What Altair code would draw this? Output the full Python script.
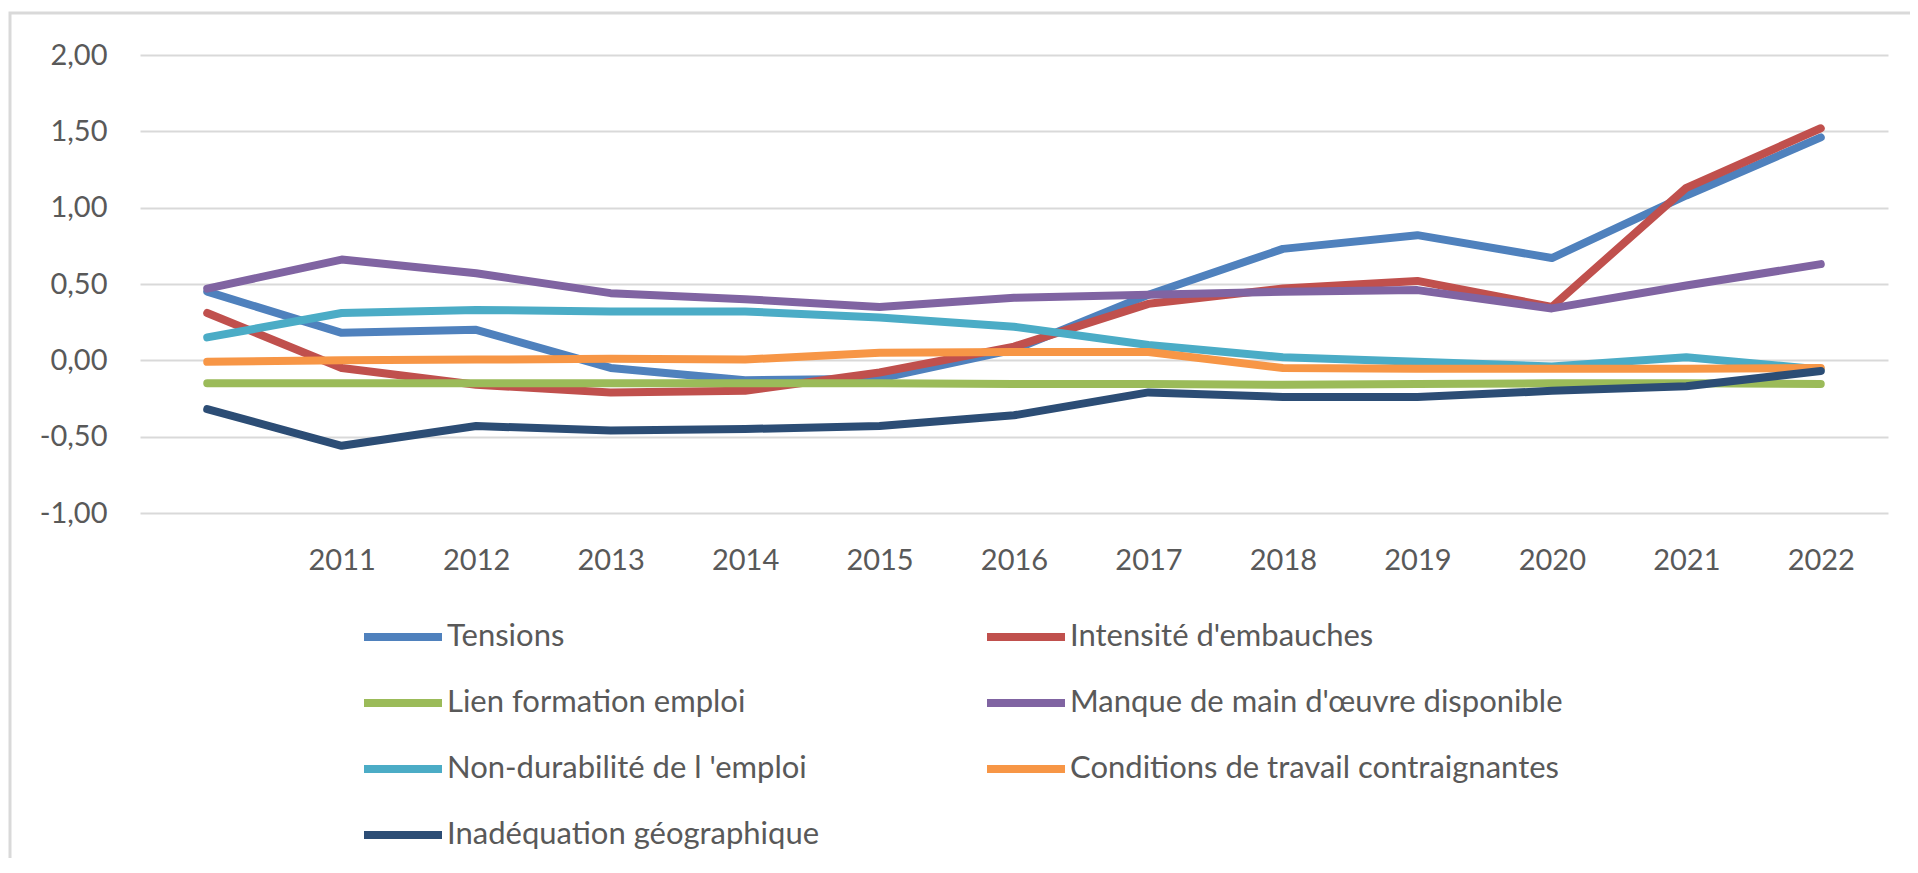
import altair as alt
import pandas as pd

# ---- data ----
years = ["2010", "2011", "2012", "2013", "2014", "2015", "2016",
         "2017", "2018", "2019", "2020", "2021", "2022"]

series_names = [
    "Tensions",
    "Intensité d'embauches",
    "Lien formation emploi",
    "Manque de main d'œuvre disponible",
    "Non-durabilité de l 'emploi",
    "Conditions de travail contraignantes",
    "Inadéquation géographique",
]

tensions = [0.45, 0.18, 0.20, -0.05, -0.13, -0.12, 0.07, 0.43, 0.73, 0.82, 0.67, 1.08, 1.46]
intensite = [0.31, -0.05, -0.16, -0.21, -0.20, -0.08, 0.09, 0.37, 0.47, 0.52, 0.35, 1.13, 1.52]
lien = [-0.15, -0.15, -0.15, -0.15, -0.15, -0.15, -0.155, -0.155, -0.16, -0.155, -0.15, -0.15, -0.155]
manque = [0.47, 0.66, 0.57, 0.44, 0.40, 0.35, 0.41, 0.43, 0.45, 0.46, 0.34, 0.49, 0.63]
non_durabilite = [0.15, 0.31, 0.33, 0.32, 0.32, 0.28, 0.22, 0.10, 0.02, -0.01, -0.04, 0.02, -0.06]
conditions = [-0.01, 0.00, 0.005, 0.01, 0.005, 0.05, 0.055, 0.055, -0.05, -0.055, -0.055, -0.055, -0.05]
inadequation = [-0.32, -0.56, -0.43, -0.46, -0.45, -0.43, -0.36, -0.21, -0.24, -0.24, -0.20, -0.17, -0.07]

colors = ["#4F81BD", "#C0504D", "#9BBB59", "#8064A2", "#4BACC6", "#F79646", "#2C4D75"]

y_ticks = [-1.0, -0.5, 0.0, 0.5, 1.0, 1.5, 2.0]

all_series = [tensions, intensite, lien, manque, non_durabilite, conditions, inadequation]
rows = []
for name, vals in zip(series_names, all_series):
    for yr, v in zip(years, vals):
        rows.append({"Année": yr, "Série": name, "Valeur": v})
df = pd.DataFrame(rows)

FONT = "Lato"
TXT = "#595959"
GRID = "#d9d9d9"

lines = alt.Chart(df).mark_line(
    strokeWidth=8, strokeCap="round", strokeJoin="round"
).encode(
    x=alt.X(
        "Année:N",
        sort=years,
        axis=alt.Axis(
            title=None, labelAngle=0, domain=False, ticks=False,
            labelFont=FONT, labelFontSize=29, labelColor=TXT, labelPadding=33,
            labelExpr="datum.value == '2010' ? '' : datum.value",
        ),
    ),
    y=alt.Y(
        "Valeur:Q",
        scale=alt.Scale(domain=[-1, 2], nice=False, zero=False),
        axis=alt.Axis(
            title=None, values=y_ticks, domain=False, ticks=False,
            grid=True, gridColor=GRID, gridWidth=2,
            labelFont=FONT, labelFontSize=29, labelColor=TXT, labelPadding=33,
            labelExpr="(datum.value < 0 ? '-' : '') + replace(format(abs(datum.value), '.2f'), '.', ',')",
        ),
    ),
    color=alt.Color(
        "Série:N",
        sort=series_names,
        scale=alt.Scale(domain=series_names, range=colors),
        legend=alt.Legend(
            title=None, orient="none", legendX=220, legendY=565,
            direction="horizontal", columns=2,
            symbolType="stroke", symbolSize=6084, symbolStrokeWidth=8,
            labelFont=FONT, labelFontSize=31, labelColor=TXT, labelOffset=1,
            labelLimit=0, rowPadding=32, columnPadding=163, clipHeight=34,
            padding=0,
        ),
    ),
)

border = alt.Chart(alt.Data(values=[{"k": 1}])).mark_rect(
    filled=False, stroke=GRID, strokeWidth=3
).encode(
    x=alt.value(-130), x2=alt.value(1800), y=alt.value(-42), y2=alt.value(830)
)

chart = alt.layer(border, lines).properties(
    width=1748,
    height=458,
    padding={"left": 132, "top": 47, "right": 22, "bottom": 345},
    autosize=alt.AutoSizeParams(type="none"),
    background="white",
).configure_view(stroke=None)

chart.save("out.html", embed_options={"renderer": "svg", "actions": False})
